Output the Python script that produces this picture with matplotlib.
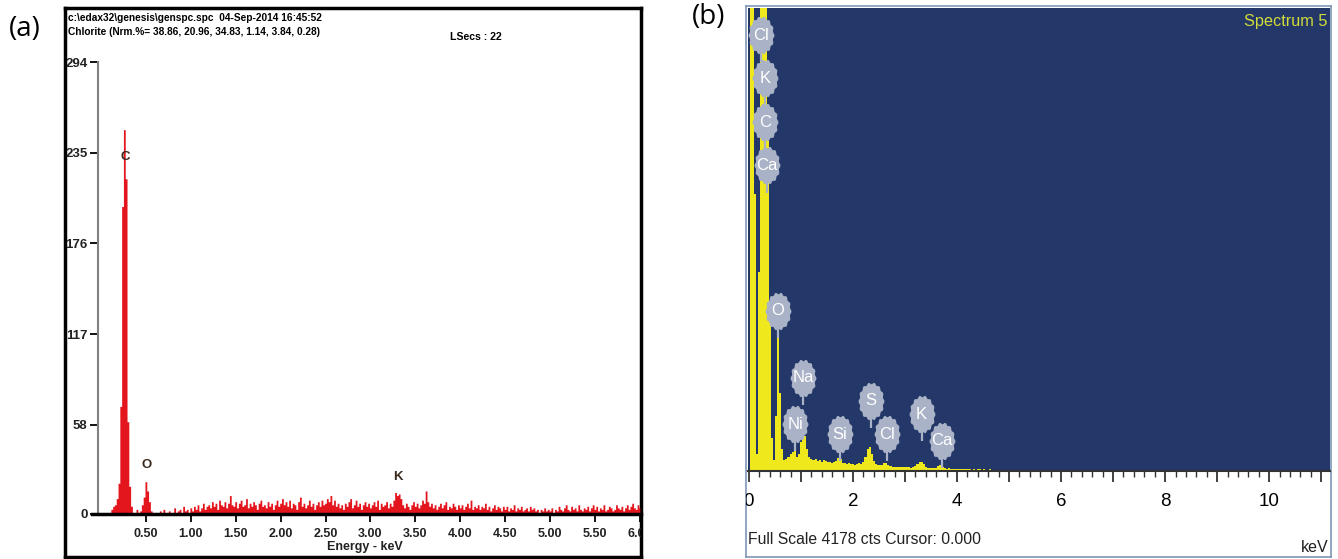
import numpy as np
import matplotlib.pyplot as plt
from matplotlib.path import Path
from matplotlib.ticker import MultipleLocator

W, H = 1338, 559
NARROW = ["Liberation Sans Narrow", "Liberation Sans", "DejaVu Sans"]
RED = "#E3161E"
BLUE = "#233768"
YELLOW = "#EEE81C"
LABEL_GRAY = "#A9B2C6"

# ---- panel (a): EDAX spectrum, counts every 0.02 keV from 0 keV ----
a_step = 0.02
a_counts = [
    0, 0, 0, 0, 0, 1, 3, 5, 6, 10, 20, 70, 200, 250, 218, 60, 18, 5, 1, 0, 3, 0, 2, 6, 11,
    21, 15, 8, 2, 1, 0, 1, 0, 2, 1, 3, 0, 1, 2, 0, 1, 4, 1, 2, 3, 1, 5, 2, 3, 1,
    4, 2, 5, 3, 6, 2, 4, 7, 3, 5, 6, 4, 8, 5, 7, 3, 9, 6, 5, 8, 4, 7, 12, 6, 5,
    8, 4, 7, 9, 5, 6, 10, 4, 7, 5, 8, 6, 3, 7, 9, 5, 6, 4, 8, 5, 7, 3, 6, 9, 5,
    7, 10, 6, 8, 5, 9, 4, 7, 6, 3, 8, 11, 5, 7, 4, 6, 9, 5, 7, 3, 6, 8, 5, 9, 6,
    7, 10, 8, 12, 6, 9, 5, 7, 4, 6, 3, 7, 5, 8, 10, 4, 6, 9, 5, 7, 3, 6, 8, 5, 7,
    4, 6, 8, 5, 9, 3, 7, 5, 6, 8, 4, 7, 5, 9, 14, 12, 13, 10, 6, 4, 7, 5, 3, 6, 8,
    5, 7, 4, 6, 9, 7, 15, 8, 5, 7, 4, 6, 3, 5, 7, 4, 6, 8, 3, 5, 4, 7, 5, 3, 6,
    4, 6, 3, 5, 7, 4, 9, 3, 5, 4, 6, 3, 5, 4, 7, 3, 5, 2, 4, 6, 3, 5, 4, 2, 5,
    3, 5, 2, 4, 3, 6, 2, 4, 3, 5, 2, 3, 4, 2, 5, 3, 4, 2, 3, 1, 3, 2, 4, 2, 3,
    2, 4, 1, 3, 2, 5, 3, 2, 4, 6, 3, 2, 5, 3, 4, 2, 6, 3, 2, 4, 3, 5, 2, 4, 6,
    3, 5, 2, 4, 3, 6, 2, 3, 5, 4, 2, 3, 6, 4, 3, 5, 2, 4, 6, 3, 5, 7, 4, 3, 6,
    4,
]
a_energy = np.arange(len(a_counts)) * a_step
a_yticks = [0, 58, 117, 176, 235, 294]
a_xticks = [0.5, 1.0, 1.5, 2.0, 2.5, 3.0, 3.5, 4.0, 4.5, 5.0, 5.5, 6.0]
a_peak_names = ["C", "O", "K"]
a_peak_x = [0.27, 0.51, 3.31]
a_peak_y = [232, 32, 24]
a_header = [
    "c:\\edax32\\genesis\\genspc.spc  04-Sep-2014 16:45:52",
    "Chlorite (Nrm.%= 38.86, 20.96, 34.83, 1.14, 3.84, 0.28)",
]

# ---- panel (b): Oxford spectrum, counts every 0.04 keV from 0 keV ----
b_step = 0.04
b_counts = [
    0, 5000, 5000, 2500, 150, 1800, 4300, 5000, 5000, 3000, 1500, 300, 100,
    500, 1220, 700, 200, 100, 110, 130, 150, 175, 180, 130, 150,
    260, 300, 320, 200, 130, 110, 100, 110, 90, 100, 85, 95, 90,
    80, 85, 75, 80, 90, 115, 105, 75, 70, 65, 70, 60,
    65, 55, 60, 70, 60, 80, 130, 200, 215, 150, 90, 60, 55,
    50, 55, 70, 75, 55, 45, 40, 40, 38, 35, 38, 35,
    33, 35, 32, 30, 35, 45, 60, 80, 85, 65, 40, 30, 28,
    30, 27, 30, 45, 50, 35, 25, 22, 24, 20, 22, 20,
    18, 20, 17, 19, 16, 18, 15, 5, 16, 4, 15, 14, 3, 14, 3, 13, 14, 2, 13, 12, 0,
]
b_energy = np.arange(len(b_counts)) * b_step
b_full_scale = 4178
b_labels = ["Cl", "K", "C", "Ca", "O", "Na", "Ni", "Si", "S", "Cl", "K", "Ca"]
b_label_x = [0.225, 0.31, 0.31, 0.34, 0.55, 1.045, 0.885, 1.75, 2.34, 2.65, 3.32, 3.705]
b_label_y = [3933, 3544, 3146, 2758, 1446, 843, 422, 332, 633, 332, 513, 271]
b_major = list(range(0, 12))
b_major_labels = [str(v) if v % 2 == 0 else "" for v in b_major]


def rect(x0, y0, x1, y1):
    return [x0 / W, 1 - y1 / H, (x1 - x0) / W, (y1 - y0) / H]


def fx(px):
    return px / W


def fy(py):
    return 1 - py / H


fig = plt.figure(figsize=(W / 100, H / 100), dpi=100)

fig.text(fx(9), fy(29), "(a)", fontsize=20, family="Open Sans", va="center", ha="left")
fig.text(fx(692), fy(17), "(b)", fontsize=20, family="Open Sans", va="center", ha="left")

# ---------------- (a) ----------------
frame_a = fig.add_axes(rect(65, 8, 641, 557))
frame_a.set_xticks([])
frame_a.set_yticks([])
for sp in frame_a.spines.values():
    sp.set_linewidth(2.5)
    sp.set_color("black")

ax_a = fig.add_axes(rect(92, 62, 641, 514))
ax_a.patch.set_alpha(0)
ax_a.fill_between(a_energy, a_counts, step="mid", color=RED, lw=0)
ax_a.set_xlim(-0.10, 6.013)
ax_a.set_ylim(0, 294)
ax_a.spines["top"].set_visible(False)
ax_a.spines["right"].set_visible(False)
ax_a.spines["left"].set_position(("data", -0.033))
ax_a.spines["left"].set_color("#808080")
ax_a.spines["left"].set_linewidth(1.5)
ax_a.spines["bottom"].set_linewidth(2.5)
ax_a.set_yticks(a_yticks, labels=[str(v) for v in a_yticks])
ax_a.set_xticks(a_xticks, labels=[f"{v:.2f}" for v in a_xticks])
ax_a.tick_params(axis="y", length=6, width=1.3, pad=1.5, labelsize=9.5)
ax_a.tick_params(axis="x", length=6, width=1.3, pad=4, labelsize=9)
for lab in ax_a.get_xticklabels() + ax_a.get_yticklabels():
    lab.set_family(NARROW)
    lab.set_weight("bold")
    lab.set_color("#222222")
for lab in ax_a.get_xticklabels():
    lab.set_clip_box(frame_a.bbox)
    lab.set_clip_on(True)

for name, x, y in zip(a_peak_names, a_peak_x, a_peak_y):
    ax_a.text(x, y, name, ha="center", va="center", fontsize=9.5,
              family=NARROW, weight="bold", color="#3a2a1e")

fig.text(fx(68), fy(18), a_header[0], fontsize=7.3, family=NARROW, weight="bold", va="center")
fig.text(fx(68), fy(32), a_header[1], fontsize=7.3, family=NARROW, weight="bold", va="center")
fig.text(fx(450), fy(37), "LSecs : 22", fontsize=7.6, family=NARROW, weight="bold", va="center")
fig.text(fx(365), fy(547), "Energy - keV", fontsize=9, family=NARROW, weight="bold",
         va="center", ha="center", color="#222222")

# ---------------- (b) ----------------
bg_b = fig.add_axes(rect(746, 6, 1331, 557))
bg_b.set_xticks([])
bg_b.set_yticks([])
bg_b.set_facecolor("white")
for sp in bg_b.spines.values():
    sp.set_color("#7F96B8")
    sp.set_linewidth(1.2)

ax_b = fig.add_axes(rect(748, 8, 1330, 471))
ax_b.set_facecolor(BLUE)
ax_b.fill_between(b_energy, b_counts, step="mid", color=YELLOW, lw=0)
ax_b.set_xlim(-0.019, 11.17)
ax_b.set_ylim(0, b_full_scale)
for side in ["top", "left", "right"]:
    ax_b.spines[side].set_visible(False)
ax_b.spines["bottom"].set_color("#333333")
ax_b.spines["bottom"].set_linewidth(1.5)
ax_b.set_yticks([])
ax_b.set_xticks(b_major, labels=b_major_labels)
ax_b.xaxis.set_minor_locator(MultipleLocator(0.2))
ax_b.tick_params(axis="x", which="major", length=8, width=1.3, pad=8, labelsize=13.5,
                 color="#333333")
ax_b.tick_params(axis="x", which="minor", length=4, width=1.0, color="#333333")
for lab in ax_b.get_xticklabels():
    lab.set_family(NARROW)
    lab.set_clip_box(bg_b.bbox)
    lab.set_clip_on(True)

# bumpy "balloon" label marker
theta = np.linspace(0, 2 * np.pi, 181)
r = 1 + 0.05 * np.cos(14 * theta)
blob = Path(np.column_stack([0.68 * r * np.cos(theta), r * np.sin(theta)]), closed=True)

stem = 245
ax_b.vlines(b_label_x, np.array(b_label_y) - stem, b_label_y, color=LABEL_GRAY, lw=1.6, zorder=3)
ax_b.scatter(b_label_x, b_label_y, marker=blob, s=720, color=LABEL_GRAY, linewidths=0, zorder=4)
for name, x, y in zip(b_labels, b_label_x, b_label_y):
    ax_b.text(x, y, name, ha="center", va="center", fontsize=12, family=NARROW,
              color="white", zorder=5)

ax_b.text(0.995, 0.97, "Spectrum 5", transform=ax_b.transAxes, ha="right", va="center",
          fontsize=11.7, family=NARROW, color="#D3DC3A")
fig.text(fx(748), fy(540), "Full Scale 4178 cts Cursor: 0.000", fontsize=11.3, family=NARROW,
         va="center", ha="left", color="#222222")
fig.text(fx(1328), fy(547), "keV", fontsize=11.5, family=NARROW, va="center", ha="right",
         color="#222222")

fig.savefig("out.png", dpi=100)
